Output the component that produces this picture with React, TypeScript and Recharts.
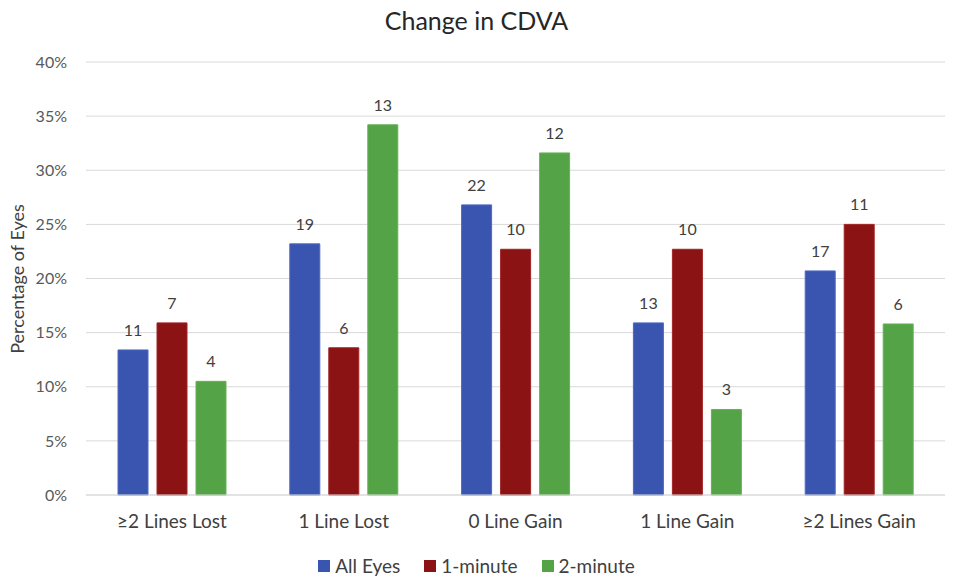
import React from "react";
import { BarChart, Bar, XAxis, YAxis, CartesianGrid, Legend, LabelList } from "recharts";

const categories = ["≥2 Lines Lost", "1 Line Lost", "0 Line Gain", "1 Line Gain", "≥2 Lines Gain"];
const allEyesPct = [0.134, 0.232, 0.268, 0.159, 0.207];
const oneMinutePct = [0.159, 0.136, 0.227, 0.227, 0.25];
const twoMinutePct = [0.105, 0.342, 0.316, 0.079, 0.158];
const allEyesCount = [11, 19, 22, 13, 17];
const oneMinuteCount = [7, 6, 10, 10, 11];
const twoMinuteCount = [4, 13, 12, 3, 6];
const yTicks = [0, 0.05, 0.1, 0.15, 0.2, 0.25, 0.3, 0.35, 0.4];
const seriesNames = ["All Eyes", "1-minute", "2-minute"];
const seriesColors = ["#3a55b0", "#8c1313", "#55a347"];

const data = categories.map((c, i) => ({
  name: c,
  all: allEyesPct[i],
  one: oneMinutePct[i],
  two: twoMinutePct[i],
  allN: allEyesCount[i],
  oneN: oneMinuteCount[i],
  twoN: twoMinuteCount[i],
}));

const FONT = "Lato, 'Open Sans', sans-serif";
const labelStyle = { fill: "#404040", fontSize: 16, fontFamily: FONT };

const LegendContent = () => (
  <div style={{ display: "flex", justifyContent: "center", gap: 24, fontSize: 19, fontFamily: FONT, color: "#404040" }}>
    {seriesNames.map((n, i) => (
      <span key={n} style={{ display: "inline-flex", alignItems: "center" }}>
        <span style={{ width: 12, height: 12, background: seriesColors[i], display: "inline-block", marginRight: 5 }} />
        {n}
      </span>
    ))}
  </div>
);

export default function App() {
  return (
    <div style={{ position: "absolute", left: 0, top: 0, width: 953, height: 578, background: "#fff", fontFamily: FONT }}>
      <div style={{ position: "absolute", left: 0, width: 953, top: 5, textAlign: "center", fontSize: 25, color: "#262626" }}>
        Change in CDVA
      </div>
      <div
        style={{
          position: "absolute",
          left: 17,
          top: 279,
          transform: "translate(-50%, -50%) rotate(-90deg)",
          whiteSpace: "nowrap",
          fontSize: 18,
          color: "#404040",
        }}
      >
        Percentage of Eyes
      </div>
      <BarChart
        width={953}
        height={578}
        data={data}
        margin={{ top: 62, right: 8, bottom: 0, left: 0 }}
        barSize={30}
        barGap={9}
      >
        <CartesianGrid vertical={false} stroke="#d9d9d9" />
        <XAxis
          dataKey="name"
          height={83}
          tickLine={false}
          stroke="#d9d9d9"
          tick={{ fill: "#404040", fontSize: 19, fontFamily: FONT }}
          tickMargin={14}
        />
        <YAxis
          width={86}
          domain={[0, 0.4]}
          ticks={yTicks}
          axisLine={false}
          tickLine={false}
          tickMargin={13}
          tickFormatter={(v: number) => `${Math.round(v * 100)}%`}
          tick={{ fill: "#595959", fontSize: 16, fontFamily: FONT }}
        />
        <Legend
          verticalAlign="middle"
          layout="horizontal"
          align="center"
          content={LegendContent}
          wrapperStyle={{ top: 554, left: 0, width: 953 }}
        />
        <Bar dataKey="all" name={seriesNames[0]} fill={seriesColors[0]} stroke="#4a68c4" isAnimationActive={false}>
          <LabelList dataKey="allN" position="top" offset={14} style={labelStyle} />
        </Bar>
        <Bar dataKey="one" name={seriesNames[1]} fill={seriesColors[1]} stroke="#a02424" isAnimationActive={false}>
          <LabelList dataKey="oneN" position="top" offset={14} style={labelStyle} />
        </Bar>
        <Bar dataKey="two" name={seriesNames[2]} fill={seriesColors[2]} stroke="#66b257" isAnimationActive={false}>
          <LabelList dataKey="twoN" position="top" offset={14} style={labelStyle} />
        </Bar>
      </BarChart>
    </div>
  );
}
